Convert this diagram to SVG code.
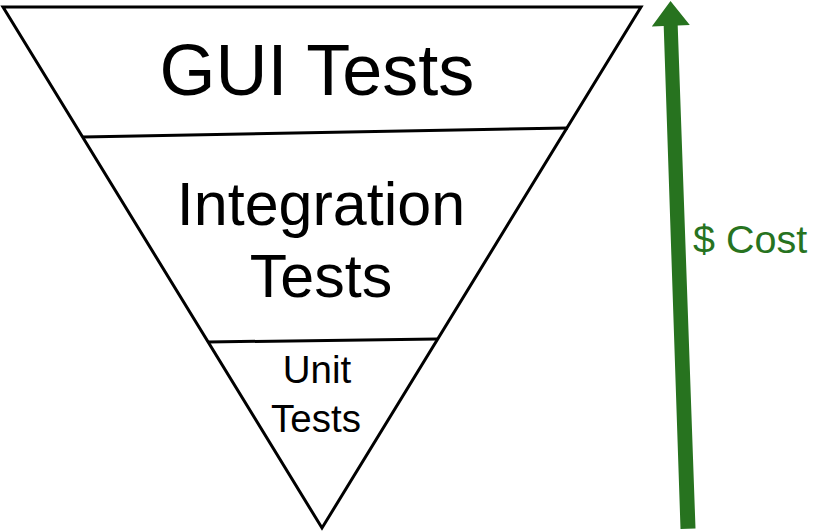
<svg xmlns="http://www.w3.org/2000/svg" width="840" height="532" viewBox="0 0 840 532">
<style>
.ln{fill:none;stroke:#000;stroke-width:3;stroke-linejoin:miter}
.t{font-family:"Liberation Sans",Arial,sans-serif;fill:#000;text-anchor:middle}
.g{fill:#27731f}
</style>
<rect width="840" height="532" fill="#fff"/>
<g id="pyramid">
<polygon class="ln" points="3,7 641,7 322,528"/>
</g>
<g id="gui">
<text class="t" x="317" y="95" font-size="72">GUI Tests</text>
</g>
<g id="integration">
<text class="t" x="321" y="225" font-size="61">Integration</text>
<text class="t" x="321" y="297" font-size="61">Tests</text>
</g>
<g id="unit">
<text class="t" x="317" y="383" font-size="38.5">Unit</text>
<text class="t" x="316" y="432" font-size="38.5">Tests</text>
</g>
<g id="connectors">
<line class="ln" x1="83" y1="137" x2="568" y2="128"/>
<line class="ln" x1="208" y1="342" x2="437" y2="339"/>
<polygon class="g" points="680.5,529 695.5,528.5 677.7,25.4 689.8,25 670.5,1 651.8,26.4 663.7,25.9"/>
</g>
<g id="cost">
<text x="693" y="253" font-size="39.5" font-family="'Liberation Sans',Arial,sans-serif" class="g">$ Cost</text>
</g>
</svg>
